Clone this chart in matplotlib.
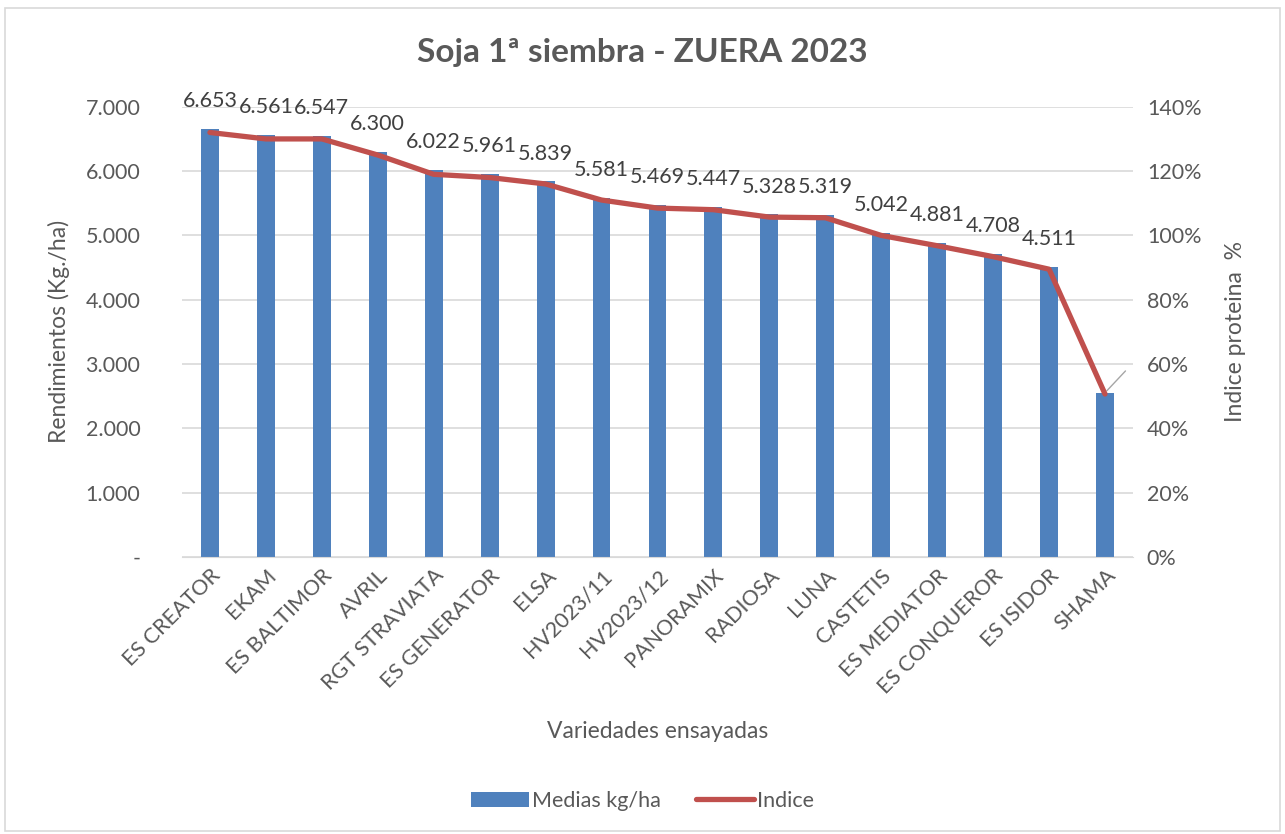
import numpy as np
import matplotlib.pyplot as plt
from matplotlib.ticker import FuncFormatter
from matplotlib.patches import Rectangle

# datos del ensayo
variedades = ['ES CREATOR', 'EKAM', 'ES BALTIMOR', 'AVRIL', 'RGT STRAVIATA', 'ES GENERATOR',
              'ELSA', 'HV2023/11', 'HV2023/12', 'PANORAMIX', 'RADIOSA', 'LUNA', 'CASTETIS',
              'ES MEDIATOR', 'ES CONQUEROR', 'ES ISIDOR', 'SHAMA']
medias = [6653, 6561, 6547, 6300, 6022, 5961, 5839, 5581, 5469, 5447, 5328, 5319, 5042,
          4881, 4708, 4511, 2555]
indice = [132, 130, 130, 125, 119, 118, 116, 111, 108.5, 108, 105.7, 105.5, 100,
          96.8, 93.4, 89.5, 50.7]

gris = '#595959'
plt.rcParams['font.family'] = ['Lato', 'DejaVu Sans']

fig = plt.figure(figsize=(12.85, 8.34), dpi=100)
fig.patches.append(Rectangle((0.004, 0.004), 0.992, 0.986, transform=fig.transFigure,
                             fill=False, edgecolor='#D9D9D9', linewidth=1.2))

ax = fig.add_axes([0.1416, 0.332, 0.7401, 0.54])
x = np.arange(len(variedades))
barras = ax.bar(x, medias, width=0.32, color='#4F81BD', label='Medias kg/ha', zorder=2)

ax.set_ylim(0, 7000)
ax.set_xlim(-0.5, len(variedades) - 0.5)
ax.set_yticks(np.arange(0, 7001, 1000))
ax.yaxis.set_major_formatter(FuncFormatter(lambda v, p: '-' if v == 0 else f'{int(v):,}'.replace(',', '.')))
ax.grid(axis='y', color='#D9D9D9', linewidth=1.2, zorder=0)
ax.set_axisbelow(True)
for s in ['top', 'right', 'left']:
    ax.spines[s].set_visible(False)
ax.spines['bottom'].set_color('#D9D9D9')
ax.tick_params(axis='both', length=0, colors=gris, labelsize=15.5)
ax.tick_params(axis='y', pad=30)
ax.tick_params(axis='x', pad=6)
ax.set_xticks(x)
ax.set_xticklabels(variedades, rotation=45, ha='right', rotation_mode='anchor')

for i, v in enumerate(medias[:-1]):
    ax.annotate(f'{v:,}'.replace(',', '.'), (x[i], v), xytext=(0, 20), textcoords='offset points',
                ha='center', va='center', fontsize=15.5, color='#404040')
ax.annotate('', xy=(x[-1], medias[-1]), xytext=(x[-1] + 0.4, medias[-1] + 370),
            arrowprops=dict(arrowstyle='-', color='#A6A6A6', linewidth=1))

ax.set_ylabel('Rendimientos (Kg./ha)', fontsize=16.5, color=gris)
ax.yaxis.set_label_coords(-0.118, 0.5)
ax.set_xlabel('Variedades ensayadas', fontsize=16.5, color=gris, labelpad=17)

ax2 = ax.twinx()
linea, = ax2.plot(x, indice, color='#C0504D', linewidth=3.8, label='Indice', zorder=3,
                  solid_capstyle='round')
ax2.set_ylim(0, 140)
ax2.set_yticks(np.arange(0, 141, 20))
ax2.yaxis.set_major_formatter(FuncFormatter(lambda v, p: f'{int(v)}%'))
for s in ['top', 'right', 'left', 'bottom']:
    ax2.spines[s].set_visible(False)
ax2.tick_params(axis='y', length=0, colors=gris, labelsize=15.5, pad=10)
ax2.set_ylabel('Indice proteina  %', fontsize=16.5, color=gris, labelpad=17)

fig.suptitle('Soja 1ª siembra - ZUERA 2023', fontsize=24, fontweight='bold', color=gris, y=0.955)

fig.legend(handles=[barras, linea], labels=['Medias kg/ha', 'Indice'], loc='center',
           bbox_to_anchor=(0.5, 0.04), ncol=2, frameon=False, fontsize=15.5, labelcolor=gris,
           handlelength=2.7, columnspacing=1.6, handletextpad=0.15)

plt.savefig('out.png', dpi=100)
